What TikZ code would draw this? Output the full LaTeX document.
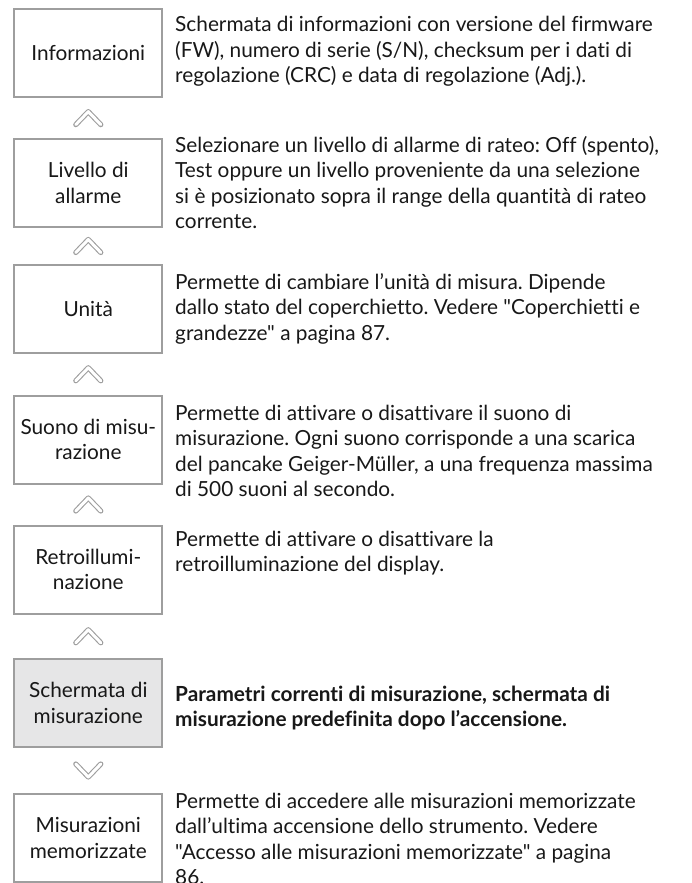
\documentclass[tikz,border=0pt]{standalone}
\usepackage{fontspec}
\setmainfont{Lato}[Ligatures={TeXOff,NoCommon}]
\frenchspacing
\definecolor{boxgray}{RGB}{158,158,158}
\definecolor{fillgray}{RGB}{230,230,231}
\definecolor{textblack}{RGB}{24,24,24}
\newcommand{\mainsize}{\fontsize{20.8}{25.5}\selectfont}
\newcommand{\lines}[1]{\begin{tabular}[t]{@{}l@{}}#1\end{tabular}}
\begin{document}
\begin{tikzpicture}[x=1pt,y=-1pt,
  box/.style={draw=boxgray, line width=2pt, fill=white, minimum width=148pt,
    minimum height=88pt, inner sep=0pt, align=center, font=\mainsize, text=textblack},
  current/.style={box, fill=fillgray},
  desc/.style={anchor=base west, inner sep=0pt, font=\mainsize, text=textblack},
  chevron/.style={draw=boxgray, line width=1.1pt, double=white, double distance=3pt,
    line cap=round, line join=round},
  chevup/.pic={\draw[chevron] (-12.5,6.5) -- (0,-6.5) -- (12.5,6.5);},
  chevdown/.pic={\draw[chevron] (-12.5,-6.5) -- (0,6.5) -- (12.5,-6.5);}]
\useasboundingbox (0,0) rectangle (691,883);

\node[box] (b1) at (88.3,53.3) {Informazioni};
\node[box] (b2) at (88.3,183) {Livello di\\allarme};
\node[box] (b3) at (88.3,309) {Unità};
\node[box] (b4) at (88.3,439.5) {Suono di misu-\\razione};
\node[box] (b5) at (88.3,569.5) {Retroillumi-\\nazione};
\node[current] (b6) at (88.3,703) {Schermata di\\misurazione};
\node[box] (b7) at (88.3,838) {Misurazioni\\memorizzate};

\foreach \a/\b/\c in {b1/b2/m1,b2/b3/m2,b3/b4/m3,b4/b5/m4,b5/b6/m5,b6/b7/m6}
  \path (\a.south) -- (\b.north) coordinate[midway] (\c);
\foreach \c in {m1,m2,m3,m4,m5} \pic at (\c) {chevup};
\pic at (m6) {chevdown};

\node[desc] (d1) at (175,32) {\lines{Schermata di informazioni con versione del firmware\\
(FW), numero di serie (S/N), checksum per i dati di\\
regolazione (CRC) e data di regolazione (Adj.).}};
\node[desc] (d2) at (175,152) {\lines{Selezionare un livello di allarme di rateo: Off (spento),\\
Test oppure un livello proveniente da una selezione\\
si è posizionato sopra il range della quantità di rateo\\
corrente.}};
\node[desc] (d3) at (175,289) {\lines{Permette di cambiare l’unità di misura. Dipende\\
dallo stato del coperchietto. Vedere "Coperchietti e\\
grandezze" a pagina 87.}};
\node[desc] (d4) at (175,420) {\lines{Permette di attivare o disattivare il suono di\\
misurazione. Ogni suono corrisponde a una scarica\\
del pancake Geiger-Müller, a una frequenza massima\\
di 500 suoni al secondo.}};
\node[desc] (d5) at (175,546) {\lines{Permette di attivare o disattivare la\\
retroilluminazione del display.}};
\node[desc, font=\mainsize\bfseries] (d6) at (175,701) {\lines{Parametri correnti di misurazione, schermata di\\
misurazione predefinita dopo l’accensione.}};
\node[desc] (d7) at (175,808) {\lines{Permette di accedere alle misurazioni memorizzate\\
dall’ultima accensione dello strumento. Vedere\\
"Accesso alle misurazioni memorizzate" a pagina\\
86.}};
\end{tikzpicture}
\end{document}
